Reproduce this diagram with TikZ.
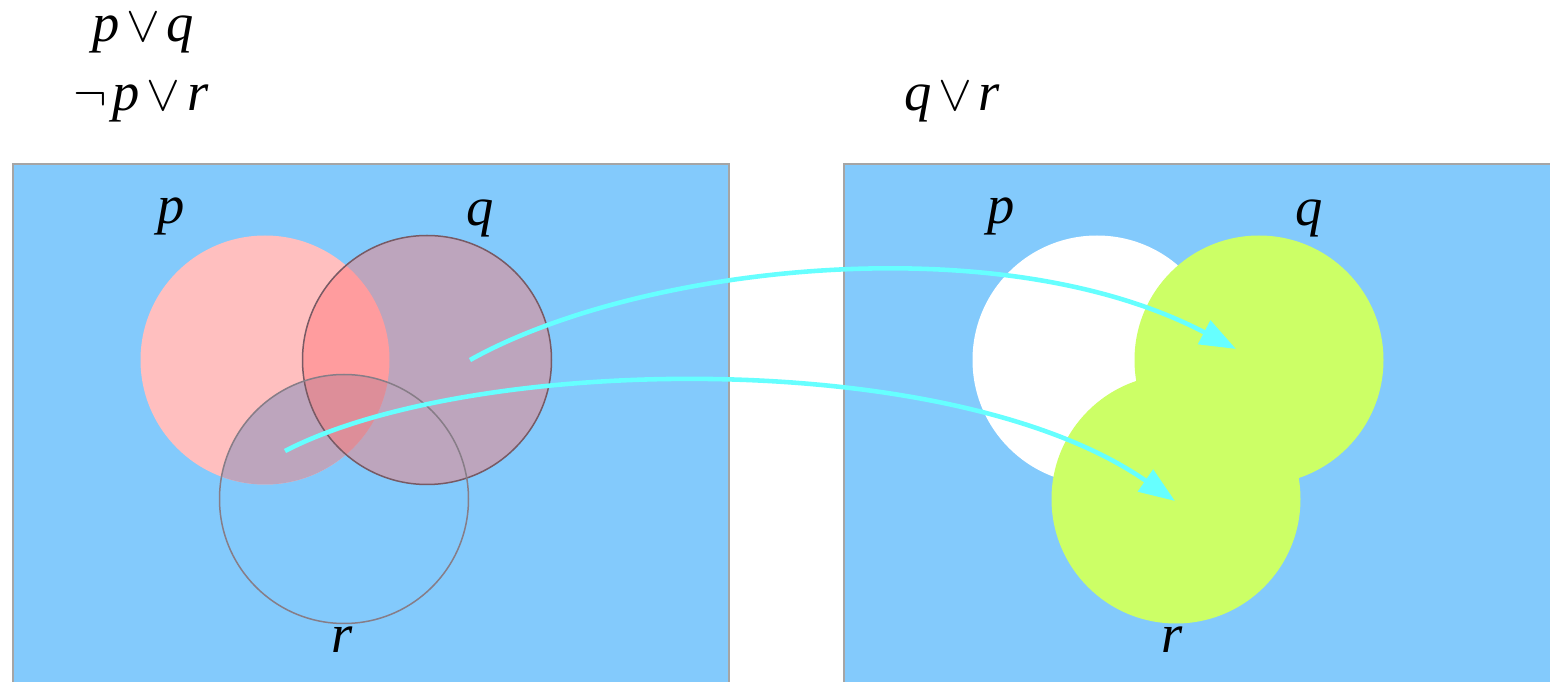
\documentclass[tikz,border=0pt]{standalone}
\usepackage{fontspec}
\setmainfont{Liberation Serif}
\usepackage{tikz}
\usetikzlibrary{arrows.meta}
\definecolor{vnblue}{RGB}{131,202,252}
\definecolor{vnframe}{RGB}{165,165,165}
\definecolor{vnpink}{RGB}{255,191,191}
\definecolor{vnmauve}{RGB}{189,165,189}
\definecolor{vnpq}{RGB}{255,156,158}
\definecolor{vnpqr}{RGB}{221,142,153}
\definecolor{vnline}{RGB}{120,90,100}
\definecolor{vnrim}{RGB}{135,125,135}
\definecolor{vngreen}{RGB}{204,255,102}
\definecolor{vncyan}{RGB}{102,255,255}
\newcommand{\orsym}{\kern.12em$\vee$\kern.12em}
\newcommand{\notsym}{$\neg$\kern.1em}

\begin{document}
\begin{tikzpicture}[x=.01cm,y=-.01cm,font=\fontsize{15.5}{18}\selectfont\itshape,
    lbl/.style={anchor=base,inner sep=1pt},
    flow/.style={vncyan,line width=1.3pt,-{Triangle[length=.36cm,width=.26cm]}}]
  \clip (0,0) rectangle (1550,682);
  \fill[white] (0,0) rectangle (1550,682);
  \filldraw[fill=vnblue,draw=vnframe,line width=.2mm] (13,164) rectangle (729,700);
  \filldraw[fill=vnblue,draw=vnframe,line width=.2mm] (844,164) rectangle (1580,700);
  % left: the two premises
  \fill[vnpink] (265,360) circle[radius=124.5];
  \fill[vnmauve] (427,360) circle[radius=124.5];
  \begin{scope}
    \clip (265,360) circle[radius=124.5];
    \fill[vnpq] (427,360) circle[radius=124.5];
    \fill[vnmauve] (344,499) circle[radius=124.5];
    \clip (427,360) circle[radius=124.5];
    \fill[vnpqr] (344,499) circle[radius=124.5];
  \end{scope}
  \draw[vnline,line width=.15mm] (427,360) circle[radius=124.5];
  \draw[vnrim,line width=.15mm] (344,499) circle[radius=124.5];
  % right: the resolvent
  \fill[white] (1097,360) circle[radius=124.5];
  \fill[vngreen] (1259,360) circle[radius=124.5];
  \fill[vngreen] (1176,499) circle[radius=124.5];
  \node[lbl] (f1) at (143,42) {p\orsym q};
  \node[lbl] (f2) at (141,111) {\notsym p\orsym r};
  \node[lbl] (g) at (952,111) {q\orsym r};
  \node[lbl] (Lp) at (171,224) {p};
  \node[lbl] (Lq) at (480,226) {q};
  \node[lbl] (Lr) at (342,653) {r};
  \node[lbl] (Rp) at (1001,224) {p};
  \node[lbl] (Rq) at (1309,226) {q};
  \node[lbl] (Rr) at (1172,653) {r};
  \coordinate (a1) at (470,360);
  \coordinate (b1) at (1236,349);
  \coordinate (a2) at (285,451);
  \coordinate (b2) at (1175,501);
  \draw[flow] (a1) .. controls (640,265) and (1000,225) .. (b1);
  \draw[flow] (a2) .. controls (470,355) and (950,345) .. (b2);
\end{tikzpicture}
\end{document}
